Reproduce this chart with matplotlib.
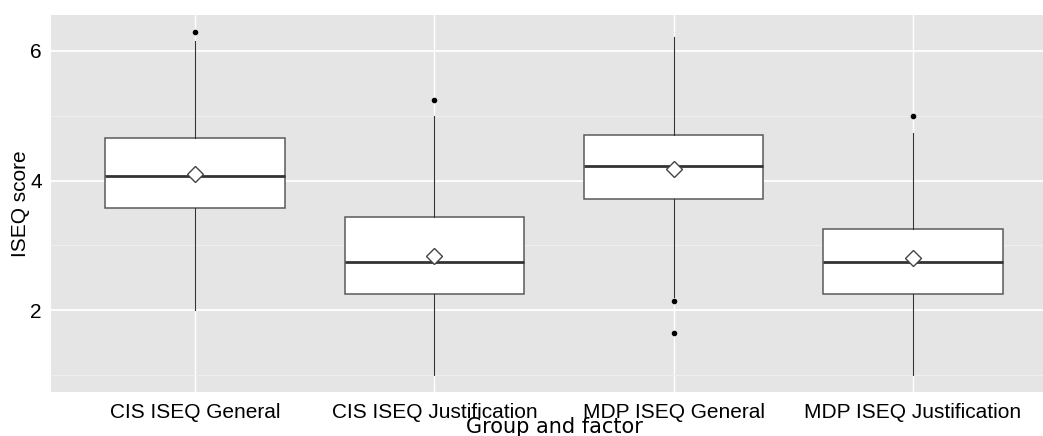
import matplotlib
matplotlib.use("Agg")
import matplotlib.pyplot as plt
from matplotlib.ticker import MultipleLocator

# values
groups = ["CIS ISEQ General", "CIS ISEQ Justification",
          "MDP ISEQ General", "MDP ISEQ Justification"]
whisker_low = [2.0, 1.0, 2.2, 1.0]
q1 = [3.57, 2.25, 3.71, 2.25]
medians = [4.07, 2.74, 4.22, 2.74]
q3 = [4.65, 3.43, 4.71, 3.25]
whisker_high = [6.15, 5.0, 6.21, 4.74]
means = [4.10, 2.84, 4.18, 2.80]
outliers = [[6.29], [5.25], [2.14, 1.64], [5.0]]

stats = []
for i, name in enumerate(groups):
    stats.append({
        "label": name,
        "whislo": whisker_low[i], "q1": q1[i], "med": medians[i],
        "q3": q3[i], "whishi": whisker_high[i],
        "mean": means[i], "fliers": outliers[i],
    })

fig = plt.figure(figsize=(10.43, 4.36), dpi=100)
# panel runs a little past the right edge, as in the reference
ax = fig.add_axes([51.4 / 1043, 1 - 392 / 436, 1005.2 / 1043, 377 / 436])
ax.set_facecolor("#E5E5E5")
for s in ax.spines.values():
    s.set_visible(False)

ax.bxp(stats, positions=[1, 2, 3, 4], widths=0.75, showmeans=True,
       showcaps=False, patch_artist=True,
       boxprops=dict(facecolor="white", edgecolor="#5a5a5a", linewidth=1.1),
       medianprops=dict(color="#333333", linewidth=2.0),
       whiskerprops=dict(color="#333333", linewidth=0.8),
       flierprops=dict(marker="o", markerfacecolor="black", markeredgecolor="black",
                       markersize=3),
       meanprops=dict(marker="D", markerfacecolor="white", markeredgecolor="#444444",
                      markersize=8, markeredgewidth=1.0))

ax.set_xlim(0.4, 4.6)
ax.set_ylim(0.735, 6.555)
ax.yaxis.set_major_locator(MultipleLocator(2))
ax.yaxis.set_minor_locator(MultipleLocator(1))
ax.grid(True, which="major", axis="y", color="white", linewidth=1.3)
ax.grid(True, which="major", axis="x", color="white", linewidth=1.0)
ax.grid(True, which="minor", axis="y", color="#F0F0F0", linewidth=0.7)
ax.set_axisbelow(True)
ax.tick_params(which="both", length=0)
ax.tick_params(axis="x", pad=8)
ax.tick_params(axis="y", pad=7)

for lab in ax.get_xticklabels() + ax.get_yticklabels():
    lab.set_fontfamily("Liberation Sans")
    lab.set_fontsize(15)
    lab.set_color("black")

ax.set_ylabel("ISEQ score", fontsize=15, family="Liberation Sans", labelpad=0)
ax.set_xlabel("Group and factor", fontsize=15, family="DejaVu Sans", labelpad=-3.5)

fig.savefig("out.png", dpi=100)
